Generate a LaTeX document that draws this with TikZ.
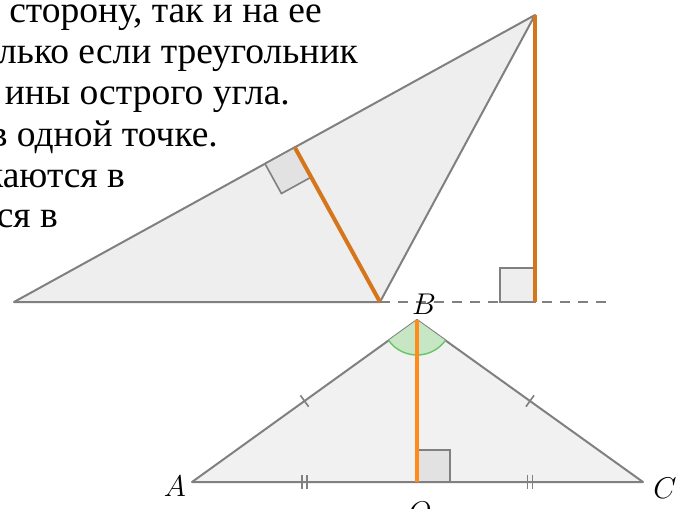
\documentclass[tikz,border=0pt]{standalone}
\usepackage{fix-cm}
\usepackage{fontspec}
\setmainfont{Liberation Serif}
\usetikzlibrary{calc}
\definecolor{edgegray}{RGB}{128,128,128}
\definecolor{trifill}{RGB}{238,238,238}
\definecolor{sqfill}{RGB}{226,226,226}
\definecolor{altdark}{RGB}{214,118,28}
\definecolor{altlight}{RGB}{255,140,26}
\definecolor{angfill}{RGB}{198,230,196}
\definecolor{angline}{RGB}{104,196,104}

\begin{document}
\begin{tikzpicture}[x=1pt,y=-1pt,
  tri/.style={draw=edgegray,line width=2pt,fill=trifill,line join=round},
  rsq/.style={draw=edgegray,line width=1.6pt,fill=sqfill},
  alt/.style={draw=altdark,line width=4pt},
  altb/.style={draw=altlight,line width=3.5pt},
  tick/.style={draw=edgegray,line width=1.6pt},
  txt/.style={anchor=base east,inner sep=0pt,font=\fontsize{37.5}{40}\selectfont},
  lbl/.style={inner sep=0pt,font=\fontsize{30}{32}\selectfont}]
\useasboundingbox (0,0) rectangle (678,509);
% text cut off on the left
\node[txt] (l1) at (322,22) {сторону, так и на ее};
\node[txt] (l2) at (358,63) {лько если треугольник};
\node[txt] (l3) at (290,104) {ины острого угла.};
\node[txt] (l4) at (218,146) {в одной точке.};
\node[txt] (l5) at (125,187) {каются в};
\node[txt] (l6) at (58,227) {ся в};
% obtuse triangle with two altitudes
\coordinate (P) at (14,302);
\coordinate (Q) at (380,302);
\coordinate (R) at (535,15);
\coordinate (Hb) at (535,302);
\coordinate (E) at (612,302);
\coordinate (H) at ($(P)!(Q)!(R)$);
\coordinate (H1) at ($(H)!34pt!(P)$);
\coordinate (H2) at ($(H)!34pt!(Q)$);
\draw[tri] (P) -- (Q) -- (R) -- cycle;
\draw[edgegray,line width=2pt,dash pattern=on 10pt off 8pt] (Q) -- (E);
\draw[rsq] (H) -- (H1) -- ($(H1)+(H2)-(H)$) -- (H2) -- cycle;
\draw[rsq,fill=trifill] (500,268) rectangle (Hb);
\draw[alt] (Q) -- (H);
\draw[alt] (R) -- (Hb);
% isosceles triangle ABC
\coordinate (A) at (192,482);
\coordinate (B) at (417,320);
\coordinate (C) at (643,482);
\coordinate (O) at (417,482);
\draw[tri,fill=trifill!80!white] (A) -- (B) -- (C) -- cycle;
\fill[angfill] (B) -- ($(B)!35pt!(A)$) arc[start angle=144.25,end angle=35.75,radius=35] -- cycle;
\draw[angline,line width=1.4pt] ($(B)!35pt!(A)$) arc[start angle=144.25,end angle=35.75,radius=35];
\draw[rsq] (O) rectangle (450,450);
\draw[altb] (B) -- (O);
\coordinate (mAB) at ($(A)!0.5!(B)$);
\coordinate (mBC) at ($(B)!0.5!(C)$);
\coordinate (mAO) at ($(A)!0.5!(O)$);
\coordinate (mOC) at ($(O)!0.5!(C)$);
\draw[tick] ($(mAB)!7pt!90:(B)$) -- ($(mAB)!7pt!-90:(B)$);
\draw[tick] ($(mBC)!7pt!90:(C)$) -- ($(mBC)!7pt!-90:(C)$);
\foreach \m in {mAO,mOC}{
  \draw[tick] ([xshift=-2.5pt,yshift=7pt]\m) -- ([xshift=-2.5pt,yshift=-7pt]\m);
  \draw[tick] ([xshift=2.5pt,yshift=7pt]\m) -- ([xshift=2.5pt,yshift=-7pt]\m);
}
\node[lbl] (lA) at (175,486) {$A$};
\node[lbl] (lB) at (424,304) {$B$};
\node[lbl] (lC) at (665,488) {$C$};
\node[lbl] (lO) at (420,512) {$O$};
\end{tikzpicture}
\end{document}
